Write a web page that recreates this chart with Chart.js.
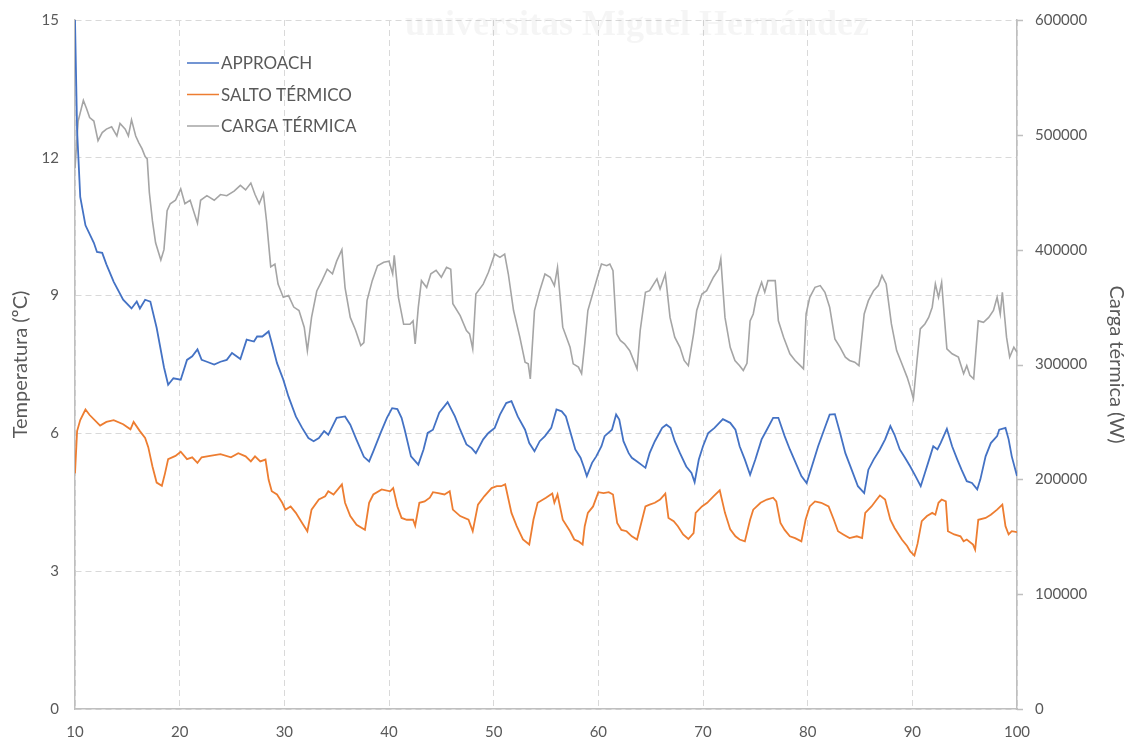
<!DOCTYPE html>
<html>
<head>
<meta charset="utf-8">
<script src="https://cdn.jsdelivr.net/npm/chart.js@4.4.1/dist/chart.umd.min.js"></script>
<style>
  html, body { margin: 0; padding: 0; background: #fff; }
  #wrap { width: 1132px; height: 743px; }
</style>
</head>
<body>
<div id="wrap"><canvas id="myChart" width="1132" height="743"></canvas></div>
<script>
// APPROACH (ºC, left axis)
const approachX = [10, 10.2, 10.5, 11.0, 11.8, 12.1, 12.6, 13.0, 13.7, 14.6, 15.4, 15.9, 16.2, 16.7, 17.2, 17.8, 18.5, 18.9, 19.4, 20.1,
	20.7, 21.2, 21.7, 22.1, 22.6, 23.3, 23.9, 24.5, 25.0, 25.8, 26.4, 27.1, 27.4, 27.9, 28.5, 28.8, 29.3, 29.9, 30.4, 31.1,
	31.7, 32.3, 32.8, 33.3, 33.8, 34.2, 35.0, 35.8, 36.3, 36.9, 37.6, 38.1, 38.5, 39.2, 39.8, 40.3, 40.8, 41.2, 41.5, 42.1,
	42.8, 43.3, 43.7, 44.2, 44.8, 45.6, 46.3, 46.8, 47.4, 47.9, 48.3, 49.0, 49.5, 50.1, 50.6, 51.2, 51.7, 52.3, 53.0, 53.4,
	53.9, 54.4, 54.9, 55.5, 56.0, 56.5, 56.9, 57.4, 57.8, 58.3, 58.6, 58.9, 59.4, 59.8, 60.3, 60.6, 61.3, 61.7, 62.0, 62.4,
	62.9, 63.2, 63.7, 64.1, 64.5, 64.9, 65.4, 66.1, 66.5, 66.9, 67.3, 67.8, 68.4, 68.9, 69.2, 69.6, 70.0, 70.5, 71.1, 71.9,
	72.6, 73.1, 73.5, 74.0, 74.5, 75.0, 75.6, 76.1, 76.7, 77.2, 77.8, 78.3, 79.0, 79.4, 79.9, 80.4, 81.0, 81.7, 82.1, 82.6,
	83.1, 83.6, 84.2, 84.8, 85.4, 85.8, 86.3, 86.9, 87.4, 87.9, 88.3, 88.8, 89.3, 89.8, 90.3, 90.8, 91.2, 91.7, 92.0, 92.4,
	92.7, 93.3, 93.8, 94.3, 94.7, 95.2, 95.7, 96.2, 96.5, 97.0, 97.5, 98.1, 98.3, 98.9, 99.2, 99.5, 100];
const approachY = [15, 12.6, 11.15, 10.53, 10.15, 9.95, 9.93, 9.68, 9.3, 8.91, 8.72, 8.87, 8.72, 8.91, 8.87, 8.3, 7.44, 7.06, 7.2, 7.17,
	7.6, 7.68, 7.83, 7.6, 7.56, 7.5, 7.56, 7.6, 7.75, 7.62, 8.04, 8.0, 8.11, 8.11, 8.22, 7.97, 7.53, 7.17, 6.8, 6.37,
	6.12, 5.9, 5.83, 5.9, 6.05, 5.97, 6.34, 6.37, 6.19, 5.86, 5.49, 5.39, 5.61, 6.01, 6.34, 6.55, 6.53, 6.34, 6.08, 5.5,
	5.32, 5.65, 6.01, 6.08, 6.45, 6.68, 6.37, 6.08, 5.76, 5.68, 5.57, 5.87, 6.01, 6.12, 6.41, 6.66, 6.7, 6.37, 6.08, 5.79,
	5.61, 5.83, 5.94, 6.12, 6.52, 6.48, 6.37, 5.97, 5.65, 5.47, 5.28, 5.07, 5.36, 5.5, 5.72, 5.94, 6.08, 6.41, 6.3, 5.83,
	5.57, 5.47, 5.39, 5.32, 5.25, 5.57, 5.83, 6.12, 6.19, 6.12, 5.83, 5.57, 5.28, 5.14, 4.94, 5.43, 5.72, 6.01, 6.12, 6.31,
	6.23, 6.08, 5.72, 5.43, 5.1, 5.43, 5.87, 6.08, 6.34, 6.34, 5.94, 5.65, 5.28, 5.07, 4.92, 5.28, 5.72, 6.16, 6.41, 6.42,
	6.01, 5.57, 5.21, 4.85, 4.7, 5.21, 5.43, 5.65, 5.87, 6.16, 5.97, 5.65, 5.47, 5.28, 5.07, 4.85, 5.14, 5.5, 5.72, 5.65,
	5.79, 6.1, 5.72, 5.43, 5.21, 4.96, 4.92, 4.78, 5.0, 5.5, 5.79, 5.94, 6.08, 6.12, 5.87, 5.5, 5.07];

// SALTO TÉRMICO (ºC, left axis)
const saltoX = [10, 10.2, 10.5, 11.0, 11.4, 12.4, 13.0, 13.7, 14.6, 15.3, 15.6, 16.2, 16.7, 17.0, 17.4, 17.8, 18.3, 18.6, 18.9, 19.6,
	20.1, 20.7, 21.2, 21.7, 22.1, 22.9, 23.9, 24.9, 25.6, 26.3, 26.8, 27.2, 27.7, 28.2, 28.5, 28.8, 29.3, 29.8, 30.1, 30.6,
	31.1, 31.7, 32.2, 32.6, 33.3, 33.9, 34.2, 34.7, 35.5, 35.8, 36.3, 36.9, 37.7, 38.1, 38.5, 39.3, 40.1, 40.4, 40.8, 41.2,
	41.7, 42.3, 42.5, 42.9, 43.4, 43.9, 44.2, 44.7, 45.3, 45.8, 46.1, 46.8, 47.6, 48.0, 48.5, 49.1, 49.8, 50.3, 50.7, 51.1,
	51.7, 52.2, 52.8, 53.4, 53.8, 54.2, 55.0, 55.6, 55.8, 56.1, 56.6, 57.3, 57.7, 58.1, 58.5, 58.7, 59.0, 59.5, 60.0, 60.5,
	61.0, 61.4, 61.8, 62.2, 62.7, 63.2, 63.7, 64.1, 64.5, 64.9, 65.4, 65.9, 66.4, 66.7, 67.2, 67.6, 68.1, 68.6, 69.1, 69.3,
	69.9, 70.4, 71.0, 71.6, 72.1, 72.6, 73.1, 73.5, 74.0, 74.5, 74.8, 75.5, 76.1, 76.7, 77.0, 77.4, 77.8, 78.3, 78.8, 79.4,
	79.8, 80.2, 80.7, 81.3, 82.0, 82.5, 82.9, 83.4, 84.0, 84.7, 85.2, 85.5, 86.1, 86.6, 86.9, 87.4, 87.9, 88.3, 89.0, 89.5,
	89.8, 90.2, 90.5, 90.9, 91.4, 91.9, 92.2, 92.5, 92.8, 93.2, 93.4, 94.0, 94.6, 94.9, 95.2, 95.8, 96.0, 96.3, 97.0, 97.5,
	98.1, 98.6, 98.9, 99.2, 99.5, 100];
const saltoY = [5.13, 6.05, 6.29, 6.52, 6.4, 6.17, 6.25, 6.29, 6.2, 6.09, 6.25, 6.05, 5.9, 5.7, 5.28, 4.93, 4.86, 5.13, 5.44, 5.51,
	5.6, 5.44, 5.48, 5.36, 5.48, 5.51, 5.55, 5.48, 5.57, 5.5, 5.39, 5.5, 5.39, 5.43, 4.99, 4.74, 4.67, 4.49, 4.34, 4.41,
	4.27, 4.05, 3.87, 4.34, 4.56, 4.63, 4.74, 4.67, 4.89, 4.49, 4.2, 4.01, 3.9, 4.49, 4.67, 4.78, 4.74, 4.81, 4.41, 4.16,
	4.12, 4.12, 3.99, 4.49, 4.52, 4.6, 4.72, 4.7, 4.67, 4.74, 4.34, 4.2, 4.12, 3.87, 4.45, 4.63, 4.81, 4.85, 4.85, 4.89,
	4.27, 3.98, 3.69, 3.58, 4.12, 4.49, 4.6, 4.69, 4.49, 4.67, 4.12, 3.87, 3.69, 3.65, 3.58, 3.98, 4.27, 4.41, 4.72, 4.7,
	4.72, 4.67, 4.05, 3.9, 3.87, 3.76, 3.69, 4.05, 4.41, 4.45, 4.49, 4.56, 4.69, 4.16, 4.09, 3.98, 3.8, 3.7, 3.83, 4.27,
	4.41, 4.49, 4.63, 4.76, 4.27, 3.91, 3.76, 3.69, 3.65, 4.12, 4.34, 4.49, 4.56, 4.6, 4.52, 4.05, 3.9, 3.76, 3.72, 3.65,
	4.12, 4.41, 4.52, 4.49, 4.41, 4.12, 3.87, 3.8, 3.72, 3.76, 3.72, 4.27, 4.41, 4.56, 4.65, 4.56, 4.12, 3.94, 3.69, 3.55,
	3.43, 3.34, 3.6, 4.09, 4.2, 4.27, 4.23, 4.49, 4.56, 4.52, 3.87, 3.8, 3.76, 3.65, 3.69, 3.58, 3.47, 4.12, 4.16, 4.23,
	4.34, 4.45, 3.98, 3.8, 3.87, 3.85];

// CARGA TÉRMICA (W, right axis)
const cargaX = [10, 10.3, 10.8, 11.1, 11.4, 11.8, 12.2, 12.6, 13.0, 13.5, 14.0, 14.3, 14.8, 15.1, 15.4, 15.8, 16.1, 16.4, 16.7, 16.9,
	17.1, 17.4, 17.7, 18.2, 18.5, 18.8, 19.1, 19.6, 20.1, 20.5, 21.0, 21.7, 22.0, 22.6, 23.3, 23.9, 24.5, 25.2, 25.8, 26.3,
	26.8, 27.2, 27.6, 28.0, 28.3, 28.7, 29.1, 29.4, 29.9, 30.4, 30.9, 31.4, 31.9, 32.2, 32.6, 33.1, 33.6, 34.1, 34.6, 35.0,
	35.5, 35.8, 36.3, 36.8, 37.3, 37.6, 37.9, 38.4, 38.9, 39.5, 40.0, 40.35, 40.5, 40.9, 41.4, 42.0, 42.3, 42.5, 42.8, 43.1,
	43.6, 44.0, 44.5, 45.0, 45.5, 45.9, 46.1, 46.8, 47.4, 47.7, 48.0, 48.3, 49.0, 49.5, 50.1, 50.6, 51.05, 51.4, 51.9, 52.5,
	53.0, 53.3, 53.5, 53.9, 54.4, 54.9, 55.4, 55.8, 56.1, 56.6, 57.3, 57.6, 58.1, 58.4, 58.7, 59.0, 59.5, 60.0, 60.3, 60.8,
	61.1, 61.4, 61.75, 62.1, 62.5, 63.0, 63.7, 64.0, 64.5, 64.9, 65.6, 65.9, 66.4, 66.85, 67.3, 67.8, 68.2, 68.6, 69.1, 69.4,
	69.9, 70.35, 71.0, 71.5, 71.7, 72.1, 72.6, 73.05, 73.5, 73.85, 74.2, 74.5, 74.8, 75.1, 75.6, 75.9, 76.2, 76.9, 77.2, 77.7,
	78.3, 78.8, 79.3, 79.6, 79.85, 80.2, 80.7, 81.2, 81.65, 82.1, 82.6, 83.1, 83.6, 84.0, 84.5, 84.9, 85.4, 85.8, 86.3, 86.75,
	87.1, 87.5, 88.0, 88.5, 89.0, 89.5, 89.8, 90.1, 90.45, 90.76, 91.2, 91.56, 91.9, 92.2, 92.5, 92.8, 93.3, 93.8, 94.4, 94.9,
	95.2, 95.5, 95.86, 96.3, 96.8, 97.3, 97.75, 98.1, 98.4, 98.6, 99.0, 99.3, 99.7, 100];
const cargaY = [471000, 512000, 530000, 523000, 515000, 512000, 495000, 502000, 505000, 507000, 499000, 510000, 505000, 499000, 513000, 499000, 493000, 488000, 481000, 479000,
	450000, 425000, 406000, 391000, 400000, 434000, 440000, 443000, 453000, 440000, 443000, 423000, 443000, 447000, 443000, 448000, 447000, 451000, 456000, 452000,
	458000, 448000, 440000, 449000, 425000, 385000, 387500, 370000, 358500, 360000, 350000, 347000, 332500, 312000, 341000, 364000, 373000, 383000, 379000, 390000,
	400000, 367000, 341000, 330000, 316500, 319000, 355600, 373000, 386000, 389000, 390000, 379000, 395000, 358500, 335000, 335000, 338000, 318000, 350000, 373000,
	367000, 379000, 382000, 376000, 384600, 383000, 353000, 342600, 329600, 326700, 313600, 361400, 370000, 380300, 396200, 393300, 396200, 378800, 347000, 323800,
	302000, 300600, 287500, 347000, 364300, 378800, 376000, 368700, 384600, 332500, 315000, 300600, 297700, 292000, 318000, 347000, 362900, 378800, 387500, 386000,
	387500, 381700, 326700, 320900, 318000, 312000, 296200, 329600, 362900, 364300, 374500, 365800, 378800, 341000, 323800, 315000, 303500, 299000, 326700, 347000,
	361400, 364300, 376000, 383000, 391900, 341000, 315000, 303500, 299000, 294800, 301000, 338000, 344000, 358500, 371600, 362900, 373000, 373000, 338000, 323800,
	309300, 303500, 299000, 296200, 344000, 358500, 367200, 368700, 362900, 349900, 322300, 315000, 306400, 303500, 302000, 299000, 344000, 355600, 364300, 368700,
	377400, 370100, 335300, 312100, 300600, 289000, 280300, 270100, 303500, 331000, 335300, 341000, 349900, 370100, 358500, 371600, 313600, 309300, 306400, 292000,
	299000, 290500, 287500, 338000, 336700, 341000, 347000, 358500, 344000, 362900, 323800, 306400, 315000, 310700];

function pts(xs, ys) {
	return xs.map((x, i) => ({ x: x, y: ys[i] }));
}

const textColor = '#595959';
const gridColor = '#d9d9d9';
const axisColor = '#bfbfbf';
const font = 'Lato';

// legend drawn inside the plot, top left
const insideLegend = {
	id: 'insideLegend',
	afterDraw(chart) {
		const c = chart.ctx;
		c.save();
		c.font = '17px ' + font;
		c.textBaseline = 'middle';
		chart.data.datasets.forEach((ds, i) => {
			const y = 63 + i * 31.5;
			c.strokeStyle = ds.borderColor;
			c.lineWidth = 1.5;
			c.beginPath();
			c.moveTo(187, y);
			c.lineTo(219, y);
			c.stroke();
			c.fillStyle = textColor;
			c.fillText(ds.label, 221, y + 1);
		});
		c.restore();
	}
};

// short outward tick marks on the right axis
const rightTicks = {
	id: 'rightTicks',
	afterDraw(chart) {
		const s = chart.scales.y1;
		const c = chart.ctx;
		c.save();
		c.strokeStyle = axisColor;
		c.lineWidth = 1.5;
		s.ticks.forEach(t => {
			const y = Math.round(s.getPixelForValue(t.value)) + 0.5;
			c.beginPath();
			c.moveTo(s.left, y);
			c.lineTo(s.left + 6, y);
			c.stroke();
		});
		c.restore();
	}
};

// faint watermark at the top
const watermark = {
	id: 'watermark',
	beforeDatasetsDraw(chart) {
		const c = chart.ctx;
		c.save();
		c.font = 'bold 36px "Liberation Serif"';
		c.fillStyle = 'rgba(120,120,120,0.07)';
		c.textBaseline = 'middle';
		c.fillText('universitas Miguel Hernández', 405, 26);
		c.restore();
	}
};

const ctx = document.getElementById('myChart');
const plot = new Chart(ctx, {
	type: 'line',
	data: {
		datasets: [{
			label: 'APPROACH',
			data: pts(approachX, approachY),
			borderColor: '#4472C4',
			borderWidth: 1.8,
			yAxisID: 'y'
		}, {
			label: 'SALTO TÉRMICO',
			data: pts(saltoX, saltoY),
			borderColor: '#ED7D31',
			borderWidth: 1.8,
			yAxisID: 'y'
		}, {
			label: 'CARGA TÉRMICA',
			data: pts(cargaX, cargaY),
			borderColor: '#A5A5A5',
			borderWidth: 1.6,
			yAxisID: 'y1'
		}]
	},
	options: {
		responsive: false,
		animation: false,
		elements: { point: { radius: 0 }, line: { tension: 0 } },
		layout: { padding: { top: 20, right: 4, bottom: 0, left: 9 } },
		plugins: { legend: { display: false }, tooltip: { enabled: false } },
		scales: {
			x: {
				type: 'linear',
				min: 10,
				max: 100,
				ticks: { stepSize: 10, color: textColor, font: { family: font, size: 15 }, padding: 14 },
				grid: { color: gridColor, drawTicks: false },
				border: { color: axisColor, width: 1.5, dash: [6, 4] },
				afterFit(s) { s.height = 34; }
			},
			y: {
				position: 'left',
				min: 0,
				max: 15,
				ticks: { stepSize: 3, color: textColor, font: { family: font, size: 15 }, padding: 2 },
				grid: { color: gridColor, drawTicks: true, tickLength: 14, tickColor: 'rgba(0,0,0,0)' },
				border: { color: axisColor, width: 1.5, dash: [6, 4] },
				title: { display: true, text: 'Temperatura (ºC)', color: textColor, font: { family: font, size: 20 }, padding: 0 },
				afterFit(s) { s.width = 66; }
			},
			y1: {
				position: 'right',
				min: 0,
				max: 600000,
				ticks: { stepSize: 100000, color: textColor, font: { family: font, size: 15 }, padding: 2, callback: v => String(v) },
				grid: { drawOnChartArea: false, drawTicks: true, tickLength: 16, tickColor: 'rgba(0,0,0,0)' },
				border: { color: axisColor, width: 1.5 },
				title: { display: true, text: 'Carga térmica (W)', color: textColor, font: { family: font, size: 20 }, padding: 0 },
				afterFit(s) { s.width = 111; }
			}
		}
	},
	plugins: [watermark, insideLegend, rightTicks]
});
</script>
</body>
</html>
